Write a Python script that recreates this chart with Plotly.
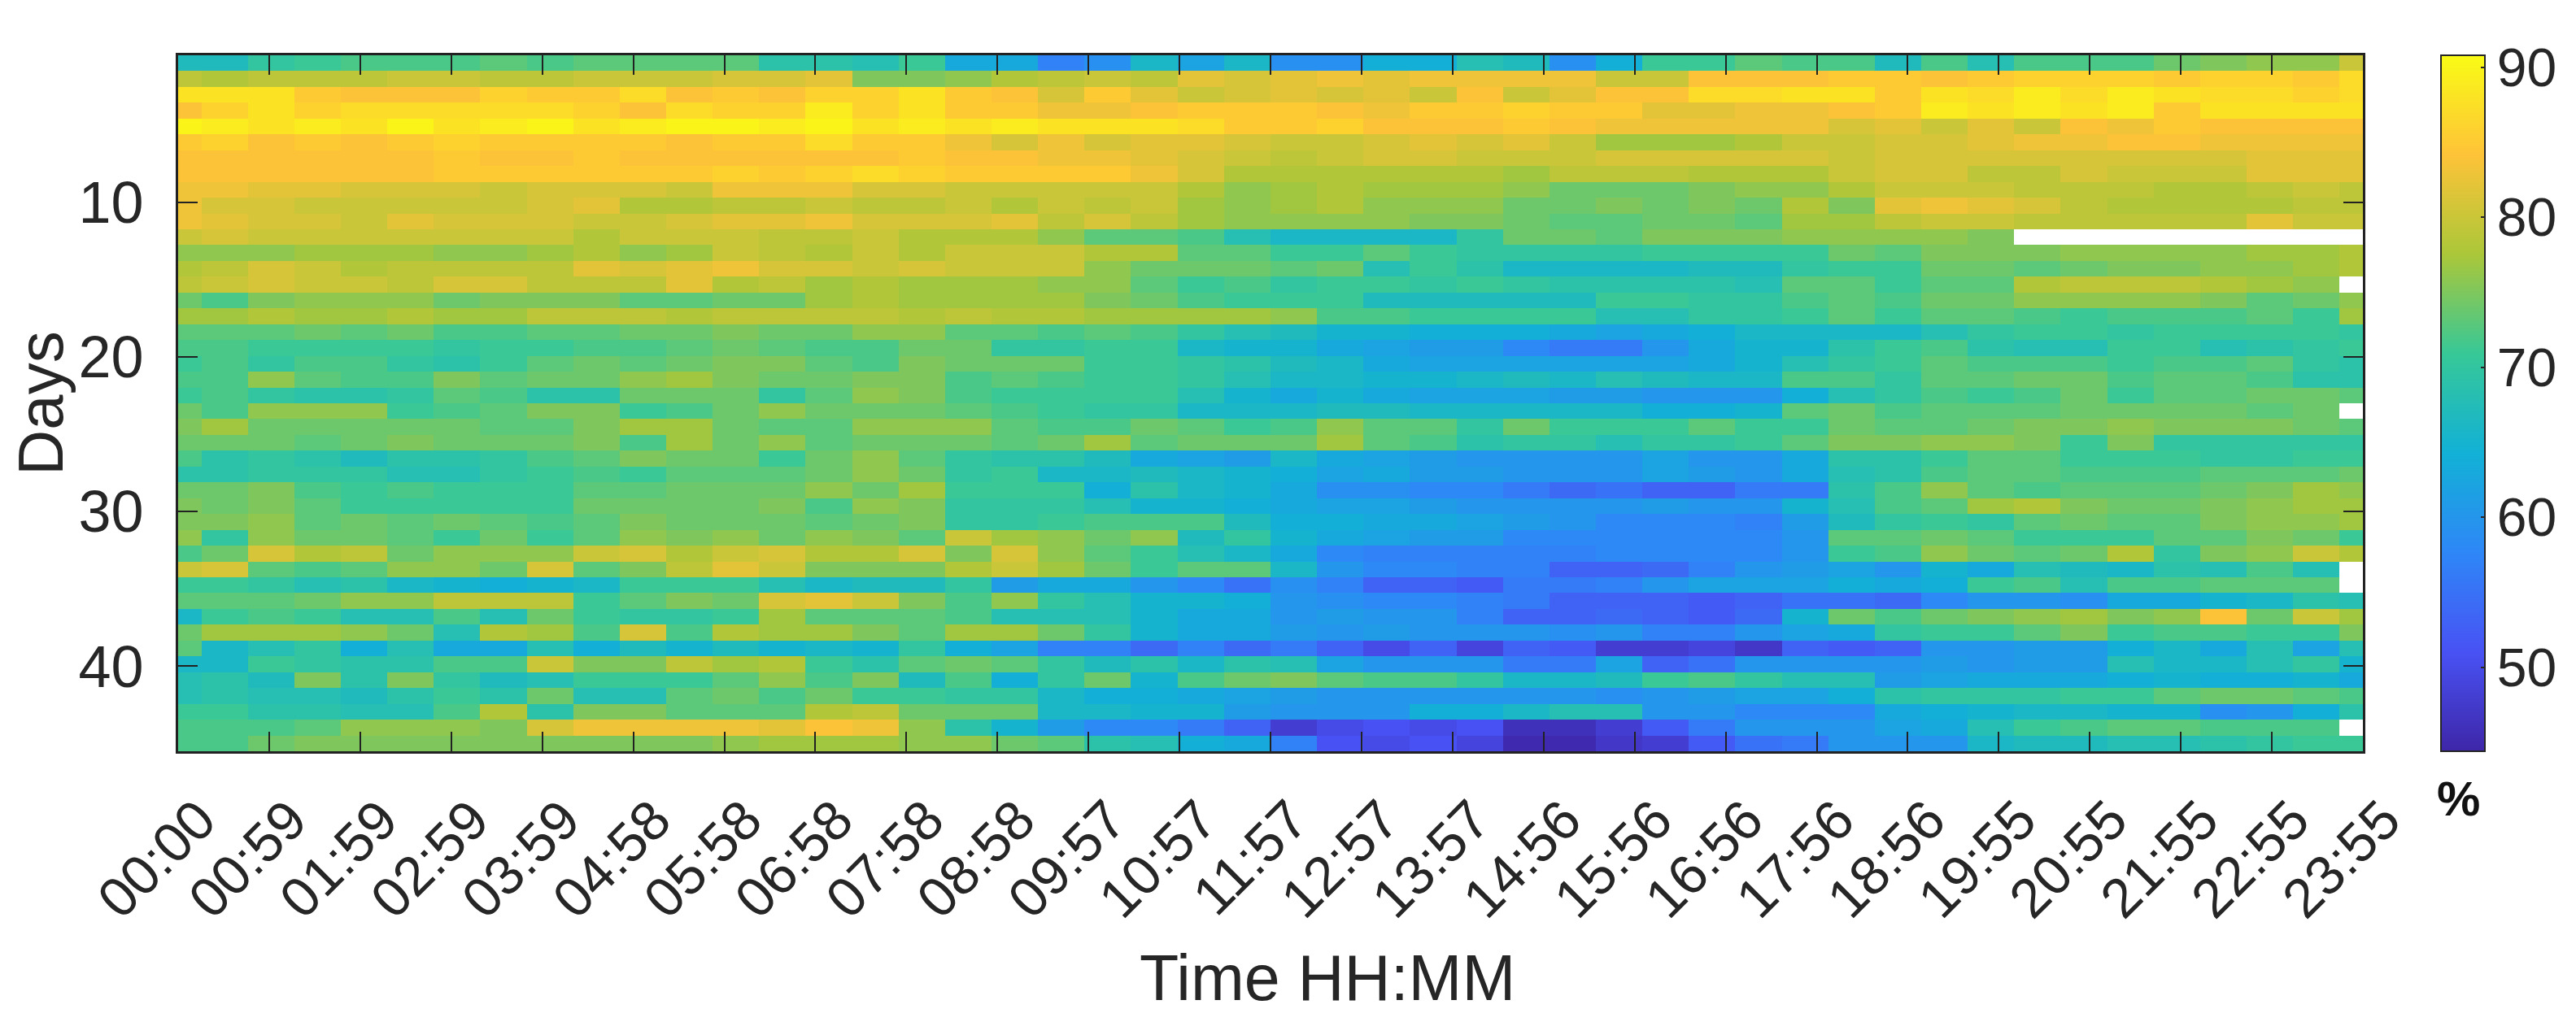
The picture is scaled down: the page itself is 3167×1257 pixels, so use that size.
import plotly.graph_objects as go

days_ticks = [10, 20, 30, 40]
time_labels = ["00:00","00:59","01:59","02:59","03:59","04:58","05:58","06:58","07:58","08:58","09:57","10:57","11:57",
               "12:57","13:57","14:56","15:56","16:56","17:56","18:56","19:55","20:55","21:55","22:55","23:55"]
cbar_ticks = [50, 60, 70, 80, 90]
N = None
humidity = [
[67,67,70,71,72,72,72,73,72,73,73,73,73,69,69,68,71,63,63,57,59,66,62,66,59,59,64,64,68,67,59,64,71,71,73,72,72,67,72,68,72,72,72,74,75,76,76,80],
[79,78,79,79,79,80,80,79,79,80,80,80,81,81,82,75,75,76,78,79,80,79,82,81,82,83,82,83,83,83,83,80,80,84,84,84,85,85,84,85,86,86,86,85,86,86,85,87],
[88,88,88,85,84,84,84,86,85,85,87,84,85,84,86,86,88,85,84,81,85,82,80,81,82,81,82,80,84,80,82,84,84,87,87,88,88,85,88,87,89,87,89,88,87,87,86,87],
[84,86,88,86,87,87,87,87,87,86,84,87,86,86,89,86,88,85,85,83,83,84,85,85,85,84,83,85,85,86,85,85,82,82,83,83,84,85,89,88,89,88,89,85,88,88,88,88],
[90,89,88,89,88,90,88,89,90,88,89,90,90,89,90,88,89,88,89,88,88,88,87,85,85,86,84,84,84,85,84,83,83,83,83,83,81,82,80,82,80,84,83,85,84,84,84,84],
[85,86,84,85,84,85,86,85,85,85,85,84,85,85,87,85,85,83,81,83,81,82,82,81,80,80,81,82,81,82,80,77,77,77,78,80,80,81,81,82,83,83,84,84,83,83,83,83],
[84,84,84,84,84,84,85,84,84,85,84,84,84,84,84,84,85,84,84,83,83,82,81,80,79,80,81,81,80,80,80,81,81,81,81,81,80,81,81,81,81,81,81,81,81,82,82,82],
[84,84,84,84,84,84,85,85,85,85,85,85,86,85,86,87,86,85,85,85,85,83,81,78,78,78,78,78,78,77,79,79,79,78,78,78,80,81,81,79,79,81,80,80,80,82,82,82],
[83,83,82,82,81,81,81,80,81,81,81,80,83,83,83,81,81,80,80,80,80,80,78,76,77,78,77,77,77,76,74,74,74,75,76,76,78,80,80,80,79,79,79,78,78,79,80,79],
[83,81,81,80,80,80,80,80,81,82,78,78,79,79,80,79,79,80,78,80,79,80,77,76,77,78,76,76,76,74,74,75,74,75,74,78,75,82,83,82,81,79,78,78,78,78,79,79],
[83,82,81,81,80,82,81,81,81,80,80,81,82,82,83,81,81,81,82,79,81,79,77,76,76,76,76,75,75,74,73,73,74,74,73,77,77,79,80,80,79,79,79,79,79,82,80,80],
[80,81,80,80,80,80,80,80,80,78,80,80,80,79,79,80,78,78,78,76,73,73,72,68,66,66,66,66,70,74,74,73,75,75,75,76,76,76,76,75,N,N,N,N,N,N,N,N],
[76,76,76,77,77,77,76,76,77,78,76,77,80,79,78,80,78,80,80,80,78,78,73,73,71,71,73,71,70,70,70,70,71,71,71,71,74,73,75,75,75,76,76,76,76,77,77,78],
[78,79,81,80,78,79,79,79,79,82,81,82,83,81,81,80,81,80,80,80,76,74,74,74,73,74,68,71,69,66,66,66,66,67,67,70,71,71,74,74,73,74,75,75,76,76,77,78],
[79,80,81,80,80,79,81,81,79,79,79,82,78,79,77,78,77,77,77,76,76,73,71,72,70,71,71,70,71,70,69,69,69,69,68,73,73,71,73,73,78,79,79,79,78,77,76,N],
[74,72,75,76,76,76,74,75,75,75,73,73,74,74,77,78,77,77,77,77,75,74,72,71,71,71,67,67,67,67,67,71,71,70,70,72,73,72,74,74,76,76,76,76,75,73,74,76],
[77,77,78,77,77,78,77,77,79,79,79,78,79,79,79,79,78,79,78,78,77,77,77,77,76,72,72,71,71,71,71,68,68,70,70,71,73,71,73,73,72,71,72,72,72,73,71,77],
[73,73,73,74,73,74,72,72,73,73,74,74,75,74,74,76,76,73,73,72,73,72,70,68,67,65,65,64,64,64,63,62,63,64,66,66,66,66,68,70,71,71,70,71,71,71,71,70],
[72,72,71,71,71,71,70,71,71,72,72,73,74,73,72,72,74,74,70,70,71,71,66,65,65,63,62,61,61,58,56,56,60,63,65,65,69,71,72,69,68,68,71,71,68,69,70,71],
[71,72,70,72,72,70,69,71,73,74,73,74,75,75,73,72,75,74,74,74,71,71,70,69,67,66,63,62,62,62,62,62,62,63,65,68,70,71,73,72,72,72,71,72,72,73,70,69],
[72,72,76,73,72,72,75,73,74,74,76,77,75,74,74,75,75,72,73,72,71,71,70,68,66,66,65,65,66,67,66,68,67,66,66,72,72,70,73,73,74,74,72,73,73,72,69,69],
[71,72,70,69,69,70,73,72,69,69,74,74,74,70,73,76,75,72,71,71,71,71,68,65,63,65,63,62,62,62,61,61,60,60,60,64,68,70,72,71,72,74,71,73,73,74,74,73],
[74,72,76,76,76,71,72,73,75,75,71,72,74,76,74,74,74,73,72,71,70,70,66,66,66,67,67,66,66,66,66,66,64,64,65,73,74,72,73,73,73,74,74,74,74,73,74,N],
[75,77,74,74,74,74,74,73,73,75,77,77,74,73,73,76,76,76,73,72,72,74,73,71,72,76,73,73,70,74,71,71,71,73,71,71,74,73,73,74,75,75,76,75,75,75,74,73],
[74,74,74,73,74,75,74,74,74,75,72,77,74,76,73,74,74,74,73,74,77,73,74,74,74,77,73,72,69,70,70,68,70,70,71,73,75,75,76,76,75,71,75,70,70,70,70,70],
[72,69,70,69,67,69,69,70,72,73,75,74,74,71,74,76,73,70,69,69,67,63,62,61,66,63,62,61,60,60,60,60,62,60,60,63,69,69,71,73,73,71,71,71,70,70,71,71],
[69,69,70,70,70,68,68,70,71,72,71,73,73,73,74,76,74,70,71,66,66,67,66,65,64,62,63,61,61,60,60,60,62,61,60,63,68,69,72,73,73,72,72,72,73,73,73,74],
[74,74,75,72,71,72,71,71,71,73,73,74,74,74,76,74,77,71,71,71,64,69,66,65,63,59,59,58,58,56,54,55,53,53,56,56,69,72,76,73,72,73,73,73,74,75,77,76],
[75,74,75,73,71,71,71,71,71,74,74,74,74,75,72,76,75,70,70,70,68,65,65,64,63,62,62,61,60,60,60,60,61,60,60,65,68,72,73,77,78,75,74,74,75,76,77,77],
[75,75,76,73,74,73,74,73,72,73,75,74,74,74,73,74,75,70,70,71,72,72,72,67,64,64,63,63,62,61,60,58,58,58,57,61,67,70,71,70,73,74,73,73,75,76,76,77],
[76,70,76,74,74,73,71,74,71,73,76,75,76,74,76,75,73,80,77,76,74,76,67,70,65,63,62,61,61,58,58,58,58,58,58,60,73,73,74,73,71,71,71,73,73,75,74,71],
[72,74,81,78,79,74,76,76,76,80,81,78,80,81,78,78,81,75,81,76,73,71,68,66,63,58,57,57,57,57,57,58,58,58,58,60,71,72,76,74,73,74,78,70,75,76,80,78],
[80,81,73,72,73,76,76,74,81,73,75,79,82,80,75,75,75,78,80,77,74,71,73,73,66,60,58,58,57,57,53,53,54,57,60,61,62,60,65,63,68,67,66,69,68,72,68,N],
[71,71,70,68,69,66,65,64,65,66,71,71,71,68,66,67,67,70,61,63,63,60,58,55,59,57,53,53,52,56,56,57,60,62,62,62,64,63,64,71,72,68,72,72,73,73,73,N],
[73,73,73,74,76,76,79,79,79,71,73,75,74,81,82,80,75,72,76,70,68,65,65,64,60,59,58,58,57,56,53,53,53,52,53,55,55,54,58,60,60,59,63,63,65,66,69,68],
[66,71,72,71,68,68,72,68,74,71,70,70,71,77,73,73,73,72,68,68,68,65,63,63,60,61,60,60,57,53,53,54,53,52,54,65,74,72,74,75,76,77,75,76,84,74,80,77],
[74,77,77,77,76,74,68,78,77,72,81,72,78,77,77,75,73,77,77,74,70,65,63,63,61,60,61,60,60,60,59,60,57,57,60,62,63,70,71,71,73,75,71,72,72,71,71,75],
[73,66,68,70,64,68,63,63,68,64,67,65,67,65,66,65,70,64,62,57,57,54,57,54,56,53,50,53,49,53,52,48,48,49,47,53,52,53,60,60,61,61,64,66,63,68,62,68],
[66,66,71,70,69,69,72,72,80,75,75,79,77,78,71,69,73,74,73,70,67,69,66,69,68,62,60,60,60,56,56,62,53,55,60,60,60,60,61,60,61,61,68,66,66,68,70,65],
[68,69,67,75,69,75,70,67,68,71,71,71,73,76,72,75,67,72,64,70,74,65,72,74,75,73,72,72,70,66,66,67,71,72,70,68,68,61,62,63,63,63,64,65,64,64,65,63],
[68,69,68,68,67,69,71,69,74,68,68,73,74,72,74,71,71,70,70,66,64,64,63,62,61,60,60,60,60,60,60,59,60,61,62,62,64,69,70,70,70,71,71,73,74,74,73,72],
[71,71,69,69,68,68,72,78,69,75,75,73,73,73,78,79,74,74,74,66,66,65,65,61,60,60,60,64,64,66,68,68,60,60,58,58,58,63,64,65,66,66,65,65,59,60,64,69],
[72,72,72,73,76,76,76,75,81,83,83,83,83,82,84,83,76,69,65,61,58,58,56,53,48,50,51,50,51,46,46,48,52,56,60,60,60,62,63,68,71,72,73,73,72,72,72,N],
[72,72,74,75,75,75,75,75,75,75,75,75,76,77,77,77,76,76,74,73,69,68,64,63,57,51,50,51,49,45,45,47,48,52,55,56,60,60,60,66,67,67,68,68,69,70,71,71],
]
parula = [[0/7,"rgb(62,38,168)"],[1/7,"rgb(72,82,244)"],[2/7,"rgb(46,135,247)"],[3/7,"rgb(18,177,214)"],
          [4/7,"rgb(55,200,151)"],[5/7,"rgb(171,199,57)"],[6/7,"rgb(254,195,56)"],[7/7,"rgb(249,251,21)"]]

n_cols = len(humidity[0])
n_rows = len(humidity)
FONT = "Liberation Sans"
TXT = "#262626"

fig = go.Figure(go.Heatmap(
    z=humidity, x=list(range(1, n_cols + 1)),
    y0=0.5 + 45 / n_rows / 2, dy=45 / n_rows,
    colorscale=parula, zmin=44.4, zmax=90.8, hoverongaps=False,
    colorbar=dict(thickness=54, len=1, lenmode="fraction", y=0, yanchor="bottom", ypad=0, xpad=0,
                  x=1.0357, xanchor="left", tickvals=cbar_ticks, ticks="inside", ticklen=6, tickwidth=2,
                  tickcolor="#262626", outlinewidth=2, outlinecolor="#262626",
                  tickfont=dict(family=FONT, size=66, color=TXT)),
))
tick_pos = [1 + i * (n_cols - 1) / (len(time_labels) - 1) for i in range(len(time_labels))]
fig.update_layout(
    width=3167, height=1257, autosize=False, paper_bgcolor="white", plot_bgcolor="white",
    margin=dict(l=211, r=270, t=60, b=341),
    font=dict(family=FONT, color=TXT),
    xaxis=dict(range=[1, n_cols], tickvals=tick_pos, ticktext=time_labels, tickangle=-45,
               ticks="inside", ticklen=24, tickwidth=2, tickcolor="#222", mirror="allticks",
               showline=True, linewidth=3, linecolor="#222", showgrid=False, zeroline=False,
               ticklabelstandoff=14, ticklabelshift=26,
               tickfont=dict(size=68, color=TXT)),
    yaxis=dict(range=[45.5, 0.5], tickvals=days_ticks, ticks="inside", ticklen=24, tickwidth=2, tickcolor="#222",
               mirror="allticks", showline=True, linewidth=3, linecolor="#222", showgrid=False, zeroline=False,
               ticklabelstandoff=25,
               tickfont=dict(size=72, color=TXT)),
    annotations=[
        dict(text="<b>%</b>", xref="paper", yref="paper", x=1.0439, y=-0.0678, xanchor="center", yanchor="middle",
             showarrow=False, font=dict(family=FONT, size=60, color="#111")),
        dict(text="Time HH:MM", xref="paper", yref="paper", x=0.5262, y=-0.3248, xanchor="center", yanchor="middle",
             showarrow=False, font=dict(family=FONT, size=79, color=TXT)),
        dict(text="Days", xref="paper", yref="paper", x=-0.0629, y=0.5, xanchor="center", yanchor="middle",
             showarrow=False, textangle=-90, font=dict(family=FONT, size=78, color=TXT)),
    ],
)
fig.write_html("out.html")
